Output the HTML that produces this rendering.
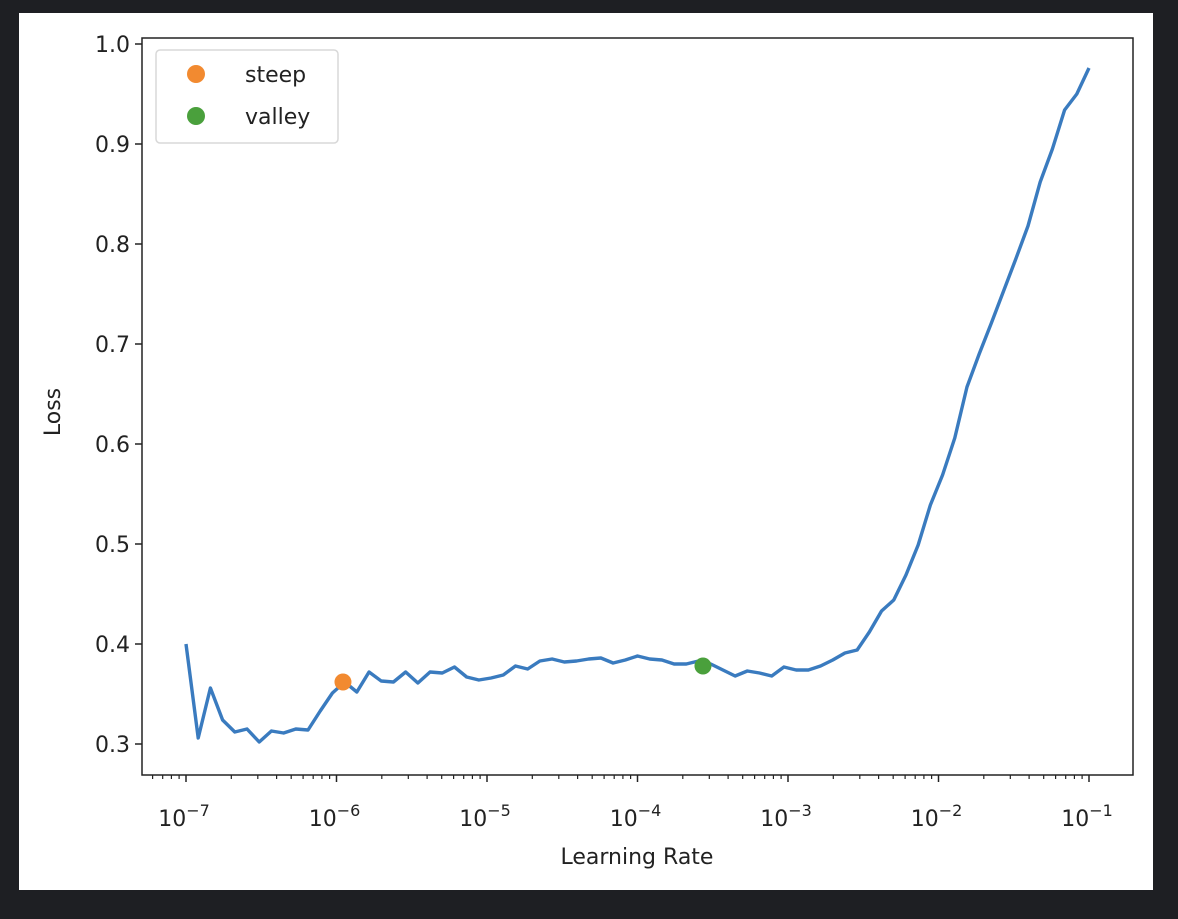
<!DOCTYPE html>
<html><head><meta charset="utf-8"><style>
html,body{margin:0;padding:0;background:#1e1f23;width:1178px;height:919px;overflow:hidden}
svg{position:absolute;left:0;top:0}
text{font-family:"DejaVu Sans","Liberation Sans",sans-serif;fill:#222}
</style></head><body>
<svg id="chart" width="1178" height="919">
<rect x="19" y="13" width="1134" height="877" fill="#fff"/>
<g id="g"></g>
</svg>
<script>
const logLr=[];
const losses=[0.400,0.306,0.356,0.324,0.312,0.315,0.302,0.313,0.311,0.315,0.314,0.333,0.351,0.362,0.352,0.372,0.363,0.362,0.372,0.361,0.372,0.371,0.377,0.367,0.364,0.366,0.369,0.378,0.375,0.383,0.385,0.382,0.383,0.385,0.386,0.381,0.384,0.388,0.385,0.384,0.380,0.380,0.383,0.380,0.374,0.368,0.373,0.371,0.368,0.377,0.374,0.374,0.378,0.384,0.391,0.394,0.412,0.433,0.444,0.469,0.499,0.539,0.569,0.606,0.657,0.690,0.721,0.753,0.785,0.818,0.862,0.895,0.934,0.950,0.976];
for(let i=0;i<losses.length;i++) logLr.push(-7+6*i/(losses.length-1));
const steepLog=-5.957, steepLoss=0.362;
const valleyLog=-3.565, valleyLoss=0.378;
const yTicks=[0.3,0.4,0.5,0.6,0.7,0.8,0.9,1.0];
const xTickExps=[-7,-6,-5,-4,-3,-2,-1];

const L=142,R=1133,T=38,B=775;
const x=v=>186+(v+7)*150.5;
const y=v=>744-(v-0.3)*1000;
const NS='http://www.w3.org/2000/svg';
const g=document.getElementById('g');
function mk(t,a,p){const e=document.createElementNS(NS,t);for(const k in a)e.setAttribute(k,a[k]);(p||g).appendChild(e);return e;}

yTicks.forEach(v=>{
  const t=mk('line',{x1:L-7,x2:L,y1:y(v),y2:y(v),stroke:'#222','stroke-width':1.5});
  
  
  const l=mk('text',{x:L-12,y:y(v)+8,'text-anchor':'end','font-size':22});
  l.textContent=v.toFixed(1);
  
  
});
for(let e=-8;e<=-1;e++){
  for(let m=2;m<=9;m++){
    const lv=e+Math.log10(m), px=x(lv);
    if(px<L||px>R)continue;
    const t=mk('line',{x1:px,x2:px,y1:B,y2:B+4,stroke:'#222','stroke-width':1.2});
    
    
  }
}
xTickExps.forEach(e=>{
  const t=mk('line',{x1:x(e),x2:x(e),y1:B,y2:B+7,stroke:'#222','stroke-width':1.5});
  
  
  const l=mk('text',{x:x(e)-2,y:B+51,'text-anchor':'middle','font-size':22});
  
  
  l.textContent='10';
  const s=mk('tspan',{dy:-10,'font-size':16},l);
  s.textContent='−'+(-e);
});
const pts=logLr.map((v,i)=>x(v)+','+y(losses[i])).join(' ');
const line=mk('polyline',{points:pts,fill:'none',stroke:'#3a7bbf','stroke-width':3.4,'stroke-linejoin':'round'});


const sp=mk('circle',{cx:x(steepLog),cy:y(steepLoss),r:8.5,fill:'#f28a30'});


const vp=mk('circle',{cx:x(valleyLog),cy:y(valleyLoss),r:8.5,fill:'#4aa03c'});


const fr=mk('rect',{x:L,y:T,width:R-L,height:B-T,fill:'none',stroke:'#222','stroke-width':1.5});


const xl=mk('text',{x:637,y:864,'text-anchor':'middle','font-size':22});
xl.textContent='Learning Rate';


const yl=mk('text',{x:0,y:0,'text-anchor':'middle','font-size':22,transform:'translate(60,412) rotate(-90)'});
yl.textContent='Loss';


const lg=mk('g',{});


mk('rect',{x:156,y:50,width:182,height:93,rx:4,fill:'#fff',stroke:'#d8d8d8','stroke-width':1.5},lg);
mk('circle',{cx:196,cy:74,r:9,fill:'#f28a30'},lg);
const t1=mk('text',{x:245,y:82,'font-size':22},lg);t1.textContent='steep';
mk('circle',{cx:196,cy:116,r:9,fill:'#4aa03c'},lg);
const t2=mk('text',{x:245,y:124,'font-size':22},lg);t2.textContent='valley';
</script>
</body></html>
